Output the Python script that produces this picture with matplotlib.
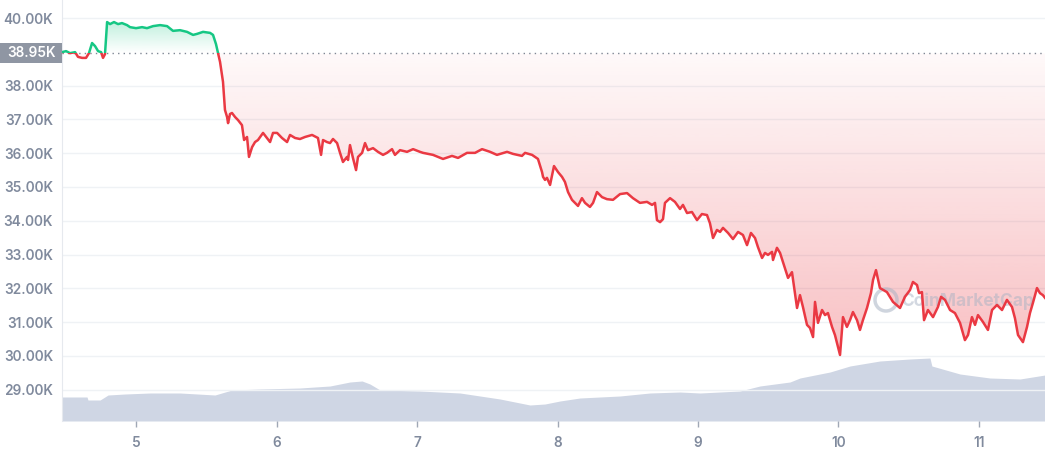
import numpy as np
import matplotlib

matplotlib.use("Agg")
import matplotlib.pyplot as plt
from matplotlib.patches import Rectangle, Ellipse
from matplotlib.path import Path

# ---- palette ---------------------------------------------------------------
GREEN = "#16c784"
RED = "#ea3943"
TICK = "#808a9d"
GRID = "#eff2f5"
VOL = "#cfd6e4"
BOX = "#8f96a3"

plt.rcParams["font.family"] = ["Inter", "DejaVu Sans"]

# ---- data ------------------------------------------------------------------
BASELINE = 38950

days = [4.473, 4.502, 4.530, 4.566, 4.587, 4.616, 4.644, 4.665, 4.687, 4.708,
        4.730, 4.751, 4.765, 4.779, 4.794, 4.815, 4.843, 4.872, 4.900, 4.936,
        4.957, 5.000, 5.043, 5.078, 5.121, 5.171, 5.221, 5.263, 5.313, 5.363,
        5.406, 5.434, 5.477, 5.527, 5.548, 5.569, 5.584, 5.598, 5.619, 5.633,
        5.648, 5.655, 5.669, 5.683, 5.705, 5.726, 5.754, 5.769, 5.790, 5.804,
        5.826, 5.847, 5.868, 5.904, 5.932, 5.954, 5.975, 6.004, 6.039, 6.075,
        6.096, 6.132, 6.167, 6.203, 6.253, 6.295, 6.317, 6.331, 6.359, 6.381,
        6.402, 6.431, 6.452, 6.473, 6.502, 6.509, 6.523, 6.544, 6.566, 6.580,
        6.609, 6.630, 6.651, 6.687, 6.722, 6.758, 6.786, 6.822, 6.843, 6.879,
        6.929, 6.972, 7.021, 7.043, 7.114, 7.185, 7.249, 7.292, 7.356, 7.413,
        7.463, 7.520, 7.569, 7.641, 7.683, 7.747, 7.769, 7.819, 7.861, 7.890,
        7.897, 7.911, 7.925, 7.947, 7.975, 8.004, 8.032, 8.053, 8.075, 8.103,
        8.125, 8.146, 8.174, 8.196, 8.231, 8.253, 8.281, 8.317, 8.352, 8.395,
        8.445, 8.495, 8.537, 8.587, 8.637, 8.673, 8.694, 8.708, 8.730, 8.751,
        8.765, 8.801, 8.836, 8.872, 8.893, 8.922, 8.957, 8.993, 9.028, 9.064,
        9.085, 9.107, 9.135, 9.157, 9.178, 9.214, 9.249, 9.285, 9.320, 9.349,
        9.377, 9.406, 9.427, 9.456, 9.477, 9.498, 9.527, 9.534, 9.562, 9.584,
        9.619, 9.641, 9.669, 9.705, 9.726, 9.747, 9.776, 9.797, 9.819, 9.833,
        9.854, 9.883, 9.904, 9.925, 9.954, 9.975, 9.996, 10.011, 10.032, 10.060,
        10.082, 10.103, 10.132, 10.153, 10.174, 10.203, 10.231, 10.246, 10.267, 10.295,
        10.345, 10.388, 10.438, 10.473, 10.509, 10.530, 10.559, 10.573, 10.594, 10.609,
        10.637, 10.673, 10.708, 10.730, 10.758, 10.794, 10.829, 10.865, 10.900, 10.922,
        10.950, 10.972, 10.993, 11.028, 11.064, 11.093, 11.128, 11.164, 11.199, 11.235,
        11.256, 11.278, 11.313, 11.342, 11.363, 11.384, 11.413, 11.434, 11.455, 11.470]

price = [38990, 39020, 38960, 38990, 38850, 38820, 38820, 38960, 39260, 39170,
         39020, 38990, 38820, 38930, 39880, 39820, 39880, 39820, 39850, 39790,
         39730, 39700, 39730, 39700, 39760, 39790, 39760, 39620, 39640, 39590,
         39500, 39530, 39590, 39560, 39500, 39230, 38960, 38700, 38110, 37280,
         37070, 36890, 37160, 37190, 37070, 36980, 36830, 36390, 36480, 35890,
         36180, 36330, 36390, 36600, 36450, 36330, 36600, 36600, 36450, 36330,
         36540, 36450, 36420, 36480, 36540, 36450, 35950, 36390, 36330, 36300,
         36420, 36300, 36010, 35740, 35890, 35800, 36240, 35860, 35500, 35890,
         36010, 36300, 36090, 36150, 36040, 35950, 36010, 36120, 35950, 36090,
         36040, 36120, 36040, 36010, 35950, 35830, 35920, 35860, 36010, 36010,
         36120, 36040, 35950, 36040, 35980, 35920, 36010, 35950, 35830, 35440,
         35300, 35210, 35270, 35060, 35620, 35440, 35300, 35150, 34850, 34620,
         34530, 34440, 34670, 34530, 34410, 34530, 34850, 34700, 34640, 34620,
         34790, 34820, 34670, 34530, 34560, 34470, 34530, 34020, 33960, 34050,
         34530, 34670, 34560, 34350, 34470, 34230, 34260, 34020, 34200, 34170,
         33930, 33490, 33730, 33670, 33790, 33640, 33460, 33670, 33580, 33280,
         33640, 33490, 33220, 32900, 33050, 32990, 33080, 32840, 33200, 33050,
         32600, 32310, 32480, 31420, 31800, 31450, 30920, 30830, 30560, 31600,
         30980, 31360, 31210, 31270, 30860, 30620, 30270, 30030, 31150, 30860,
         31060, 31300, 31060, 30770, 31060, 31420, 31860, 32250, 32540, 32010,
         31890, 31600, 31420, 31750, 31950, 32190, 32100, 31860, 31890, 31060,
         31360, 31150, 31450, 31750, 31660, 31360, 31270, 30980, 30470, 30620,
         31150, 30920, 31210, 31010, 30770, 31360, 31510, 31360, 31660, 31450,
         31120, 30620, 30410, 30860, 31270, 31570, 32010, 31860, 31800, 31720]

vol_days = [4.473, 4.651, 4.658, 4.744, 4.801, 4.922, 5.100, 5.313, 5.562, 5.683,
            5.883, 6.167, 6.381, 6.523, 6.609, 6.665, 6.737, 7.021, 7.306, 7.591,
            7.804, 7.911, 8.018, 8.160, 8.445, 8.658, 8.872, 9.014, 9.299, 9.441,
            9.655, 9.726, 9.940, 10.082, 10.295, 10.509, 10.651, 10.665, 10.865, 11.078,
            11.292, 11.470]
volume = [6.0, 6.0, 5.25, 5.25, 6.5, 6.75, 7.0, 7.0, 6.5, 7.75,
          8.0, 8.25, 8.75, 9.75, 10.0, 9.25, 7.75, 7.5, 7.0, 5.5,
          4.0, 4.25, 5.0, 5.75, 6.25, 7.0, 7.25, 7.0, 7.5, 8.75,
          9.75, 10.75, 12.25, 13.75, 15.0, 15.5, 15.75, 13.75, 11.75, 10.75,
          10.5, 11.5]

ytick_vals = [29000, 30000, 31000, 32000, 33000, 34000, 35000, 36000, 37000, 38000, 40000]
xtick_vals = [5, 6, 7, 8, 9, 10, 11]

# ---- figure ----------------------------------------------------------------
fig = plt.figure(figsize=(10.45, 4.5), dpi=100, facecolor="white")
ax = fig.add_axes([62 / 1045, 29 / 450, 983 / 1045, 421 / 450])
XMIN, XMAX = 4.473, 11.470
YMIN, YMAX = 28076, 40533
ax.set_xlim(XMIN, XMAX)
ax.set_ylim(YMIN, YMAX)

# volume on its own hidden scale
vax = ax.twinx()
vax.set_ylim(0, 105.25)
vax.fill_between(vol_days, 0, volume, color=VOL, lw=0, zorder=1)
vax.axis("off")
ax.set_zorder(vax.get_zorder() + 1)
ax.patch.set_visible(False)

# grid
for v in ytick_vals:
    ax.axhline(v, color=GRID, lw=1, zorder=0)

x = np.array(days)
y = np.array(price)


# gradient fills clipped to the area between price and baseline
def gradient_fill(where, color, a_near, a_far, y_far):
    poly = ax.fill_between(x, y, BASELINE, where=where, interpolate=True,
                           color="none", lw=0)
    paths = poly.get_paths()
    if not paths:
        return
    clip = Path.make_compound_path(*paths)
    rgb = matplotlib.colors.to_rgb(color)
    n = 256
    img = np.zeros((n, 1, 4))
    img[:, 0, :3] = rgb
    img[:, 0, 3] = np.linspace(a_near, a_far, n)
    im = ax.imshow(img, extent=[XMIN, XMAX, BASELINE, y_far], origin="lower",
                   aspect="auto", zorder=2, interpolation="bilinear")
    im.set_clip_path(clip, transform=ax.transData)


gradient_fill(y <= BASELINE, RED, 0.03, 0.32, 30000)
gradient_fill(y >= BASELINE, GREEN, 0.0, 0.28, 39900)
ax.set_xlim(XMIN, XMAX)
ax.set_ylim(YMIN, YMAX)

# faint watermark, under the price line
ax.add_patch(Ellipse((886 / 1045, (450 - 300) / 450), 22 / 1045, 22 / 450,
                     transform=fig.transFigure, fill=False, lw=2.5,
                     edgecolor="#a9b3c4", alpha=0.55, zorder=3, clip_on=False))
ax.text(901 / 1045, (450 - 301) / 450, "CoinMarketCap", transform=fig.transFigure,
        ha="left", va="center", color="#a9b3c4", alpha=0.5, fontsize=12.5,
        fontweight="bold", zorder=3)

# price line: green above baseline, red below
for col, y0, y1 in [(GREEN, BASELINE, YMAX), (RED, YMIN, BASELINE)]:
    ln, = ax.plot(x, y, color=col, lw=1.8, zorder=4, solid_joinstyle="round")
    rect = Rectangle((XMIN, y0), XMAX - XMIN, y1 - y0, transform=ax.transData)
    ln.set_clip_path(rect)

# dotted baseline
ax.axhline(BASELINE, color="#7f8794", lw=1, ls=(0, (1, 3)), zorder=3)

# axes styling
for s in ["top", "right", "bottom"]:
    ax.spines[s].set_visible(False)
ax.spines["left"].set_color("#e6e9ee")
ax.set_yticks(ytick_vals)
ax.set_yticklabels([f"{v / 1000:.2f}K" for v in ytick_vals])
ax.set_xticks(xtick_vals)
ax.set_xticklabels([str(v) for v in xtick_vals])
ax.tick_params(axis="y", length=0, pad=6.5, labelsize=9.8, labelcolor=TICK)
ax.tick_params(axis="x", length=4, width=1, color="#a0a8b6", pad=7,
               labelsize=9.8, labelcolor=TICK, direction="out")
for lab in ax.get_xticklabels() + ax.get_yticklabels():
    lab.set_fontweight("semibold")

# baseline value box
box_y = ax.transData.transform((0, BASELINE))[1] / fig.bbox.height
fig.patches.append(Rectangle((0, box_y - 10 / 450), 62 / 1045, 20 / 450,
                             transform=fig.transFigure, facecolor=BOX,
                             edgecolor="none", zorder=5))
fig.text(31 / 1045, box_y, "38.95K", ha="center", va="center",
         color="white", fontsize=9.8, fontweight="semibold", zorder=6)

fig.savefig("out.png", dpi=100, facecolor="white")
